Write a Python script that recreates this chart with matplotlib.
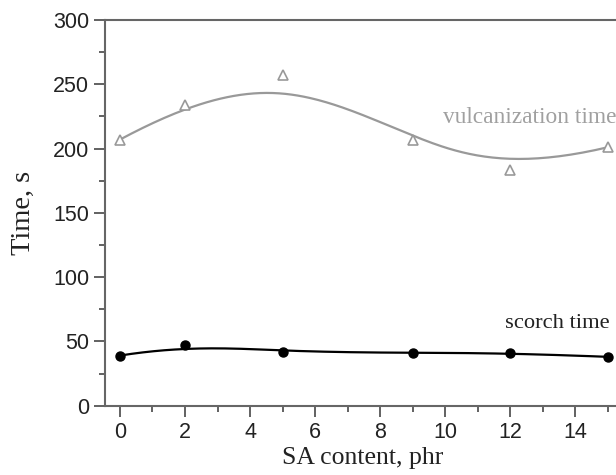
import numpy as np
import matplotlib.pyplot as plt

sa_content = [0, 2, 5, 9, 12, 15]
vulc_time = [207, 234, 257, 207, 183, 201]
scorch_time = [39, 47, 42, 41, 41, 38]


def bspline(xs, ys, n=200, k=3):
    # clamped uniform B-spline using the points as control points
    pts = np.column_stack([xs, ys]).astype(float)
    m = len(pts)
    inner = np.linspace(0, 1, m - k + 1)
    knots = np.concatenate([[0] * k, inner, [1] * k])
    t = np.linspace(0, 1, n)
    t[-1] = 1 - 1e-9

    def basis(i, p, u):
        if p == 0:
            return ((knots[i] <= u) & (u < knots[i + 1])).astype(float)
        a = 0.0
        b = 0.0
        d1 = knots[i + p] - knots[i]
        d2 = knots[i + p + 1] - knots[i + 1]
        if d1 > 0:
            a = (u - knots[i]) / d1 * basis(i, p - 1, u)
        if d2 > 0:
            b = (knots[i + p + 1] - u) / d2 * basis(i + 1, p - 1, u)
        return a + b

    out = sum(np.outer(basis(i, k, t), pts[i]) for i in range(m))
    return out[:, 0], out[:, 1]


fig = plt.figure(figsize=(6.16, 4.75), dpi=100)
ax = fig.add_axes([0.1705, 0.1459, 0.836, 0.812])

vx, vy = bspline(sa_content, vulc_time)
sx, sy = bspline(sa_content, scorch_time)

ax.plot(vx, vy, color='#999999', lw=1.6)
ax.plot(sa_content, vulc_time, ls='none', marker='^', ms=7, mfc='white',
        mec='#999999', mew=1.2)
ax.plot(sx, sy, color='black', lw=1.6)
ax.plot(sa_content, scorch_time, ls='none', marker='o', ms=6.5, color='black')

ax.text(9.94, 224, 'vulcanization time', family='Liberation Serif',
        fontsize=16.8, color='#a0a0a0', va='center', ha='left')
ax.text(11.85, 64, 'scorch time', family='Liberation Serif',
        fontsize=16.2, color='#222222', va='center', ha='left')

ax.set_xlim(-0.46, 15.38)
ax.set_ylim(0, 300)
ax.set_xticks(range(0, 15, 2))
ax.set_xticks(range(1, 16, 2), minor=True)
ax.set_yticks(range(0, 301, 50))
ax.set_yticks(range(25, 300, 50), minor=True)

ax.tick_params(which='major', direction='out', length=8, width=1.3,
               color='#555555', labelsize=15.5, labelcolor='#222222')
ax.tick_params(which='minor', direction='out', length=4, width=1.3,
               color='#555555')
for lab in ax.get_xticklabels() + ax.get_yticklabels():
    lab.set_family('Liberation Sans')

for s in ax.spines.values():
    s.set_color('#666666')
    s.set_linewidth(1.5)

ax.set_xlabel('SA content, phr', family='Liberation Serif', fontsize=18.5,
              color='#222222', labelpad=3)
ax.set_ylabel('Time, s', family='Liberation Serif', fontsize=20.5,
              color='#222222', labelpad=12)

fig.savefig('out.png', dpi=100)
